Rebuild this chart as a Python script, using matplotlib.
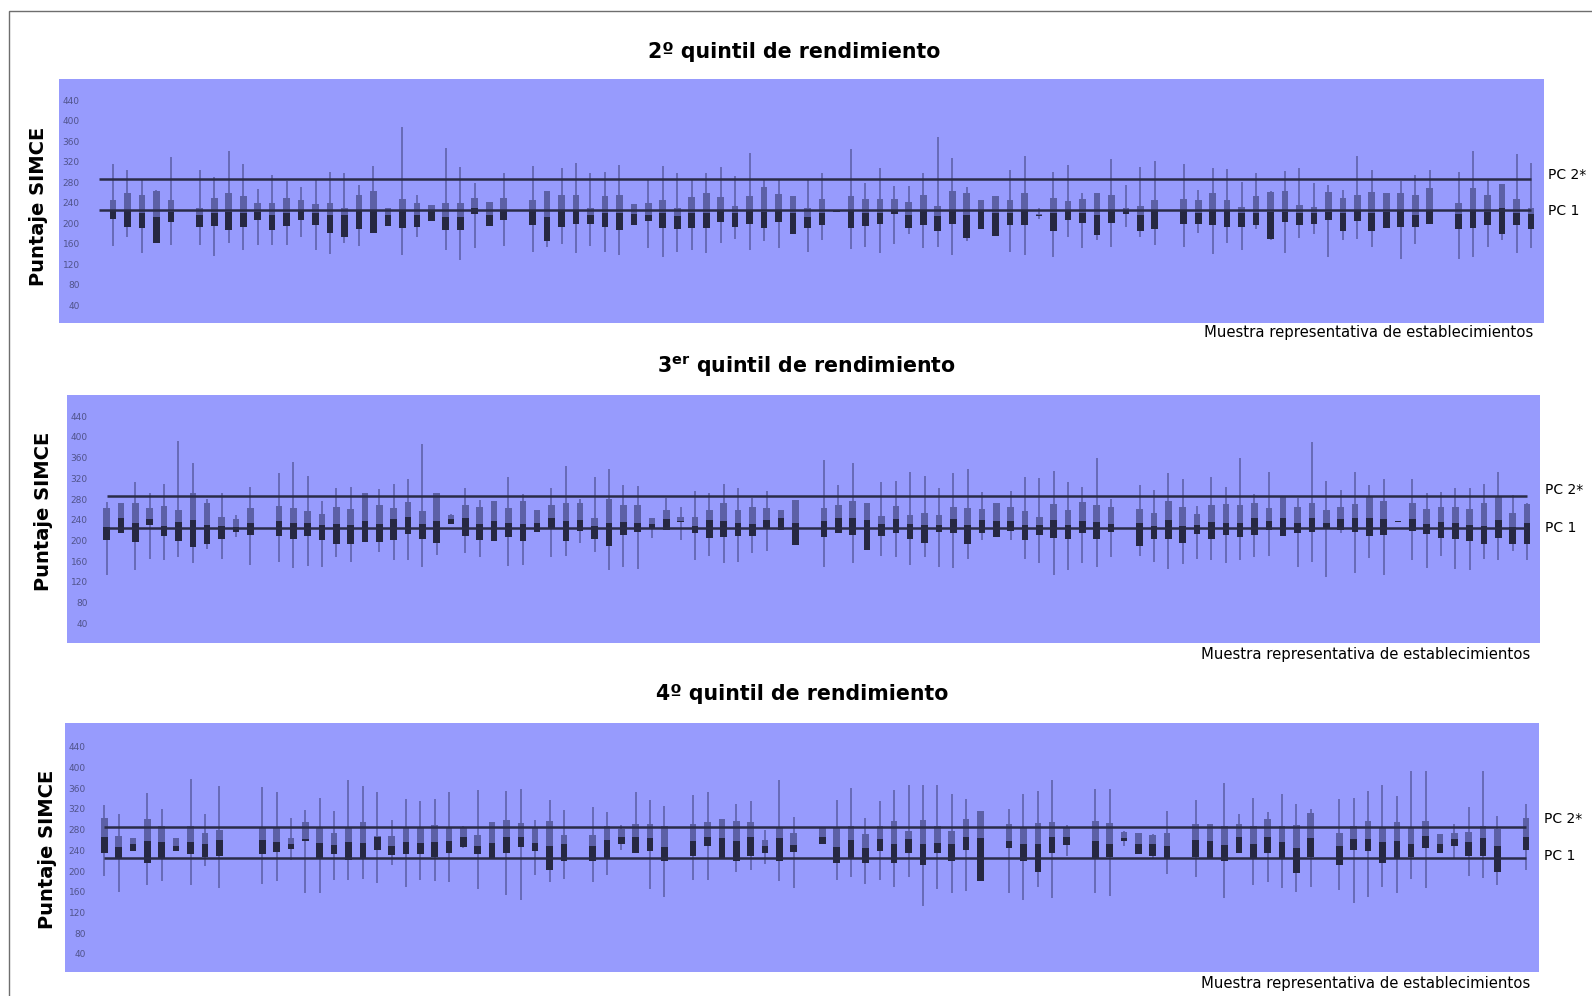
import numpy as np
import matplotlib
matplotlib.use("Agg")
import matplotlib.pyplot as plt
from matplotlib.patches import Rectangle

# puntajes SIMCE por establecimiento: minimo, Q1, mediana, Q3, maximo (None = sin dato)
q2_min = [155, 173, 141, 162, 157, None, 157, 136, 162, 147, 157, 158, 158, 173, 147, 140, 162, 155, 180, 195,
          138, 172, 204, 147, 128, 151, 195, 155, None, 144, 154, 160, 141, 155, 144, 138, 197, 152, 134, 144,
          147, 142, 162, 168, 147, 164, 151, 179, 144, 167, 222, 149, 154, 142, 160, 179, 152, 153, 138, 165,
          188, 175, 144, 138, 207, 134, 173, 151, 166, 153, 192, 173, 157, None, 154, 180, 140, 162, 147, 188,
          166, 141, 171, 179, 134, 167, 169, 154, 190, 129, 160, 199, None, 129, 134, 153, 167, 141, 151]
q2_q1 = [207, 193, 190, 162, 203, None, 193, 195, 186, 193, 205, 186, 194, 206, 196, 180, 172, 188, 180, 195,
         191, 193, 204, 186, 186, 218, 195, 206, None, 196, 164, 193, 199, 199, 192, 186, 197, 204, 190, 188,
         191, 190, 203, 193, 199, 190, 203, 179, 191, 196, 222, 191, 195, 199, 217, 191, 197, 185, 199, 171,
         188, 175, 197, 196, 213, 185, 205, 201, 177, 201, 217, 185, 188, None, 199, 199, 197, 193, 193, 196,
         169, 203, 196, 199, 206, 184, 204, 184, 190, 193, 193, 199, None, 188, 191, 197, 178, 196, 188]
q2_med = [226, 225, 220, 212, 222, None, 216, 219, 222, 219, 222, 216, 219, 226, 219, 216, 216, 225, 225, 216,
          224, 216, 223, 212, 212, 229, 216, 223, None, 225, 212, 225, 225, 216, 219, 220, 218, 216, 219, 214,
          219, 220, 225, 219, 225, 222, 225, 219, 212, 219, 224, 225, 219, 219, 225, 216, 225, 214, 225, 216,
          225, 219, 219, 225, 216, 219, 225, 219, 216, 225, 224, 216, 225, None, 225, 220, 225, 225, 219, 219,
          222, 222, 219, 219, 222, 219, 225, 219, 222, 225, 216, 225, None, 217, 225, 222, 229, 219, 217]
q2_q3 = [245, 259, 255, 263, 245, None, 229, 249, 259, 253, 240, 240, 249, 245, 238, 240, 230, 255, 262, 230,
         246, 240, 236, 240, 240, 248, 242, 248, None, 245, 262, 255, 255, 230, 253, 255, 237, 240, 245, 229,
         250, 258, 251, 234, 253, 271, 256, 253, 230, 246, 225, 253, 246, 246, 246, 242, 255, 233, 262, 259,
         245, 253, 245, 258, 218, 249, 243, 246, 258, 255, 229, 233, 245, None, 246, 244, 259, 245, 232, 253,
         261, 262, 235, 232, 261, 249, 255, 261, 258, 258, 255, 268, None, 240, 268, 255, 277, 246, 229]
q2_max = [315, 303, 284, 265, 329, None, 303, 290, 340, 315, 266, 294, 282, 271, 284, 299, 297, 274, 312, 230,
          388, 255, 236, 346, 310, 279, 242, 297, None, 311, 262, 308, 318, 297, 300, 313, 237, 283, 312, 298,
          284, 297, 309, 292, 337, 284, 285, 253, 284, 297, 225, 344, 279, 308, 272, 272, 297, 367, 327, 271,
          245, 253, 303, 331, 229, 300, 313, 258, 258, 324, 274, 310, 322, None, 316, 264, 308, 306, 281, 297,
          263, 301, 307, 279, 274, 264, 331, 303, 258, 282, 294, 303, None, 299, 340, 284, 277, 335, 318]

q3_min = [133, 214, 143, 165, 162, 169, 156, 183, 165, 207, 153, None, 159, 146, 151, 148, 169, 159, 198, 177,
          162, 162, 149, 172, 231, 175, 169, 199, 151, 153, 216, 169, 170, 196, 178, 143, 149, 144, 204, 220,
          200, 162, 170, 157, 159, 175, 180, 220, 192, None, 149, 214, 157, 182, 170, 169, 153, 169, 148, 146,
          164, 201, 206, 201, 164, 156, 133, 143, 156, 148, 169, None, 170, 159, 144, 155, 164, 162, 156, 162,
          169, 170, 209, 149, 159, 129, 214, 138, 167, 133, 236, 162, 146, 170, 144, 143, 164, 162, 180, 162]
q3_q1 = [201, 214, 198, 230, 209, 199, 188, 193, 202, 217, 211, None, 209, 202, 209, 200, 194, 194, 198, 198,
         200, 212, 202, 196, 231, 209, 200, 199, 207, 199, 216, 225, 199, 218, 202, 189, 211, 217, 225, 220,
         236, 215, 204, 207, 209, 209, 225, 220, 192, None, 206, 215, 211, 182, 209, 215, 203, 196, 216, 215,
         193, 215, 206, 218, 200, 211, 205, 202, 214, 203, 217, None, 189, 202, 202, 196, 212, 203, 211, 207,
         211, 220, 209, 214, 216, 223, 220, 216, 209, 211, 236, 218, 212, 205, 203, 199, 194, 205, 193, 194]
q3_med = [227, 243, 234, 241, 228, 236, 239, 230, 228, 227, 234, None, 238, 234, 234, 230, 232, 230, 238, 232,
          241, 245, 232, 238, 241, 243, 232, 238, 233, 231, 234, 243, 238, 239, 228, 234, 236, 234, 232, 241,
          238, 228, 239, 238, 234, 231, 239, 243, 234, None, 238, 243, 243, 239, 231, 241, 231, 230, 230, 241,
          230, 239, 238, 238, 230, 230, 239, 230, 238, 235, 232, None, 234, 228, 239, 228, 230, 236, 233, 234,
          243, 238, 243, 233, 243, 234, 241, 243, 244, 241, 238, 241, 231, 235, 233, 230, 228, 239, 227, 233]
q3_q3 = [262, 272, 272, 263, 266, 259, 292, 272, 245, 241, 263, None, 266, 263, 257, 252, 265, 260, 291, 268,
         263, 275, 257, 291, 250, 268, 265, 277, 262, 277, 259, 268, 273, 273, 244, 280, 268, 268, 244, 259,
         246, 246, 258, 273, 259, 265, 263, 259, 278, None, 263, 268, 276, 272, 247, 267, 250, 254, 249, 265,
         262, 261, 272, 265, 256, 246, 270, 258, 275, 268, 264, None, 260, 254, 276, 264, 252, 268, 270, 268,
         272, 263, 285, 265, 273, 259, 265, 270, 285, 276, 238, 273, 260, 265, 265, 261, 272, 285, 254, 270]
q3_max = [275, 272, 313, 292, 309, 392, 349, 281, 292, 249, 303, None, 330, 352, 324, 277, 301, 303, 291, 299,
          309, 318, 387, 291, 252, 301, 279, 277, 323, 290, 259, 302, 344, 281, 323, 339, 308, 305, 244, 283,
          264, 296, 292, 310, 301, 283, 295, 259, 278, None, 355, 308, 350, 272, 313, 315, 333, 324, 301, 331,
          338, 294, 272, 295, 323, 320, 334, 313, 303, 360, 281, None, 308, 297, 330, 318, 266, 322, 304, 359,
          290, 332, 285, 283, 391, 315, 297, 332, 308, 318, 238, 318, 292, 294, 302, 301, 310, 332, 288, 272]

q4_min = [191, 160, 238, 173, 180, 238, 173, 210, 167, None, None, 175, 181, 221, 158, 157, 183, 182, 184, 176,
          212, 169, 182, 180, 178, 245, 165, 224, 153, 145, 192, 179, 184, None, 178, 192, 241, 234, 165, 150,
          None, 182, 182, 225, 199, 202, 214, 181, 167, None, 252, 182, 188, 175, 182, 169, 189, 133, 165, 158,
          161, 181, None, 158, 145, 170, 148, 230, None, 157, 152, 248, 232, 224, 194, None, 188, 226, 147, 235,
          174, 178, 168, 160, 170, None, 163, 138, 150, 169, 158, 184, 168, 234, 224, 191, 186, 174, None, 202]
q4_q1 = [234, 225, 238, 216, 225, 238, 233, 228, 230, None, None, 232, 236, 243, 258, 225, 233, 221, 225, 241,
         231, 233, 233, 228, 235, 247, 232, 224, 235, 247, 239, 203, 219, None, 219, 224, 252, 234, 239, 220,
         None, 230, 248, 225, 220, 230, 234, 220, 237, None, 252, 216, 224, 215, 239, 215, 235, 212, 235, 220,
         241, 181, None, 245, 219, 199, 234, 250, None, 225, 228, 258, 232, 229, 226, None, 228, 226, 219, 235,
         225, 235, 225, 197, 228, None, 211, 240, 239, 215, 224, 228, 245, 234, 248, 230, 229, 199, None, 240]
q4_med = [265, 247, 252, 258, 257, 249, 257, 252, 260, None, None, 260, 257, 252, 261, 254, 250, 257, 254, 266,
          248, 257, 255, 257, 258, 265, 248, 255, 266, 266, 255, 248, 253, None, 248, 260, 266, 265, 263, 247,
          None, 258, 265, 263, 258, 265, 248, 263, 250, None, 266, 247, 260, 245, 261, 252, 261, 253, 255, 253,
          265, 263, None, 258, 252, 252, 265, 265, None, 258, 253, 264, 253, 253, 248, None, 260, 258, 251, 266,
          253, 266, 256, 245, 264, None, 248, 261, 261, 256, 258, 253, 268, 252, 261, 256, 264, 248, None, 265]
q4_q3 = [302, 268, 263, 300, 287, 263, 287, 274, 279, None, None, 283, 283, 263, 295, 286, 273, 286, 295, 268,
         268, 286, 286, 289, 283, 285, 270, 294, 298, 293, 283, 296, 270, None, 270, 287, 281, 291, 291, 287,
         None, 291, 294, 300, 296, 294, 260, 285, 273, None, 283, 283, 287, 272, 287, 296, 278, 298, 287, 278,
         300, 316, None, 291, 285, 293, 294, 283, None, 296, 293, 276, 273, 270, 273, None, 291, 291, 287, 291,
         287, 300, 287, 289, 312, None, 274, 287, 296, 285, 294, 285, 296, 271, 274, 276, 287, 281, None, 302]
q4_max = [328, 310, 263, 351, 319, 263, 378, 310, 364, None, None, 362, 353, 302, 317, 341, 316, 375, 364, 353,
          299, 339, 336, 339, 353, 287, 357, 294, 355, 359, 299, 338, 317, None, 324, 314, 289, 353, 337, 325,
          None, 346, 352, 300, 329, 335, 279, 375, 304, None, 283, 337, 361, 302, 335, 356, 366, 366, 366, 348,
          340, 316, None, 319, 348, 355, 375, 289, None, 359, 359, 278, 273, 272, 316, None, 337, 291, 371, 311,
          342, 314, 348, 329, 319, None, 340, 342, 354, 367, 345, 393, 394, 271, 291, 323, 394, 307, None, 329]

pc1 = 225   # puntaje de corte 1
pc2 = 286   # puntaje de corte 2
y_ticks = list(range(40, 441, 40))

BLUE = "#979bfd"
DARK = "#262842"
LIGHT = "#5c60a6"
WHISK = "#5a5da3"
LINE = "#2a2c48"

W, H = 1592, 996
fig = plt.figure(figsize=(W / 100, H / 100), dpi=100)


def rect(l, t, r, b):
    return [l / W, 1 - b / H, (r - l) / W, (b - t) / H]


def ftext(x, y, s, **kw):
    fig.text(x / W, 1 - y / H, s, **kw)


def arr(v):
    return np.array([np.nan if a is None else a for a in v], dtype=float)


def draw_panel(box, data, xlim, ylim, line_span):
    ax = fig.add_axes(rect(*box), facecolor=BLUE)
    for s in ax.spines.values():
        s.set_visible(False)
    lo, q1, med, q3, hi = [arr(v) for v in data]
    x = np.arange(1, len(lo) + 1)
    ax.vlines(x, lo, hi, color=WHISK, lw=1.1, zorder=1)
    ax.bar(x, med - q1, bottom=q1, width=0.46, color=DARK, zorder=2)
    ax.bar(x, q3 - med, bottom=med, width=0.46, color=LIGHT, zorder=2)
    ax.hlines([pc1, pc2], line_span[0], line_span[1], color=LINE, lw=1.8, zorder=3)
    ax.set_xlim(*xlim)
    ax.set_ylim(*ylim)
    ax.set_xticks([])
    ax.set_yticks(y_ticks)
    ax.tick_params(axis="y", length=0, pad=-15, labelsize=6.5, labelcolor="#50538a")
    return ax


# marco exterior
fig.add_artist(Rectangle((9 / W, -0.05), 1.2, 1.05 - 11 / H, transform=fig.transFigure,
                         fill=False, edgecolor="#6e6e6e", lw=1.0))

draw_panel((59, 79, 1544, 323), (q2_min, q2_q1, q2_med, q2_q3, q2_max),
           (-2.73, 99.9), (5, 481), (0, 99))
draw_panel((67, 395, 1540, 643), (q3_min, q3_q1, q3_med, q3_q3, q3_max),
           (-1.77, 100.9), (2, 481), (1, 100))
draw_panel((65, 723, 1539, 972), (q4_min, q4_q1, q4_med, q4_q3, q4_max),
           (-1.74, 100.9), (5, 486), (1, 100))

titles = ["2º quintil de rendimiento", r"3$^{\mathbf{er}}$ quintil de rendimiento", "4º quintil de rendimiento"]
title_xy = [(794, 52), (806, 367), (802, 694)]
ylab_xy = [(39, 206), (44, 511), (48, 849)]
xlab_xy = [(1533, 333), (1530, 654), (1530, 983)]
pc_xy = [(1548, 175, 211), (1545, 490, 528), (1544, 819, 856)]

for i in range(3):
    ftext(*title_xy[i], titles[i], ha="center", va="center", fontsize=14.8, fontweight="bold")
    ftext(*ylab_xy[i], "Puntaje SIMCE", ha="center", va="center", rotation=90,
          fontsize=14, fontweight="bold")
    ftext(*xlab_xy[i], "Muestra representativa de establecimientos", ha="right", va="center",
          fontsize=10.7)
    px, y2, y1 = pc_xy[i]
    ftext(px, y2, "PC 2*", ha="left", va="center", fontsize=10)
    ftext(px, y1, "PC 1", ha="left", va="center", fontsize=10)

fig.savefig("out.png", dpi=100, facecolor="white")
